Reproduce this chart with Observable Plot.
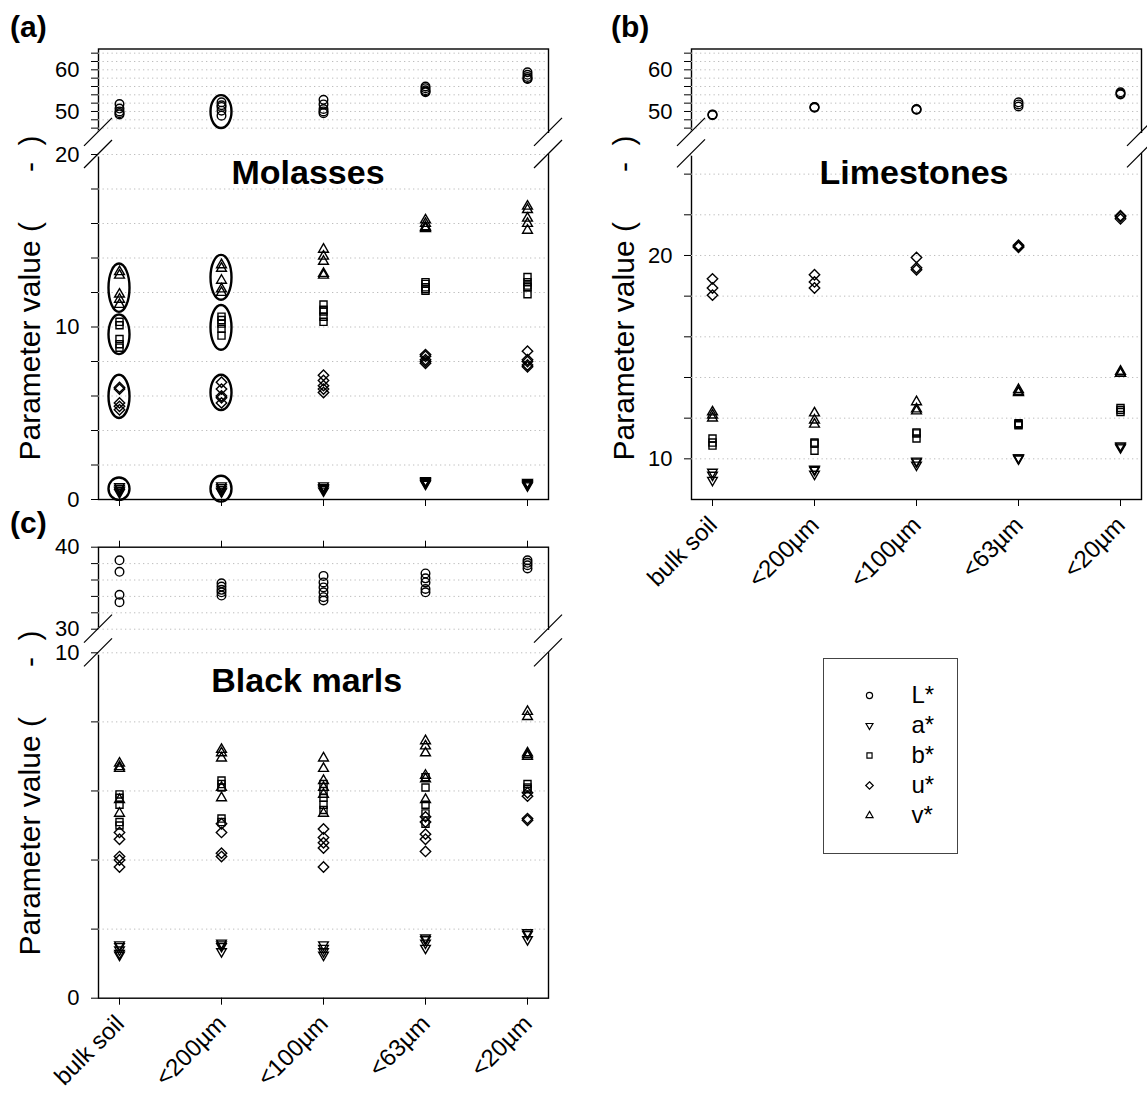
<!DOCTYPE html>
<html>
<head>
<meta charset="utf-8">
<script src="https://cdn.jsdelivr.net/npm/d3@7"></script>
<script src="https://cdn.jsdelivr.net/npm/@observablehq/plot@0.6"></script>
<style>
  body { margin: 0; background: #fff; }
  #fig { position: relative; width: 1147px; height: 1097px; overflow: hidden; background: #fff;
         font-family: "Liberation Sans", Arial, Helvetica, sans-serif; color: #000; }
  .txt { position: absolute; line-height: 1; white-space: pre; }
</style>
</head>
<body>
<div id="fig"></div>
<script>
// ---------------- data ----------------
const sizes = ["bulk soil", "<200µm", "<100µm", "<63µm", "<20µm"];
const params = ["L*", "a*", "b*", "u*", "v*"];

// (a) Molasses: one inner array per size fraction
const molasses_L = [[51.8, 50.7, 50.0, 49.6, 49.3], [52.2, 51.5, 51.1, 50.2, 49.0], [52.8, 51.7, 50.6, 50.0, 49.6], [56.0, 55.6, 55.1, 54.8, 54.6], [59.4, 58.8, 58.3, 57.9, 57.8]];
const molasses_a = [[0.75, 0.65, 0.55, 0.5, 0.4], [0.8, 0.7, 0.6, 0.5, 0.45], [0.8, 0.7, 0.65, 0.6, 0.5], [1.1, 1.05, 1.0, 0.95, 0.9], [1.0, 0.95, 0.9, 0.85, 0.8]];
const molasses_b = [[10.3, 10.1, 9.3, 9.0, 8.8], [10.6, 10.4, 10.2, 9.9, 9.5], [11.3, 11.0, 10.9, 10.6, 10.3], [12.6, 12.5, 12.3, 12.2, 12.1], [12.9, 12.6, 12.4, 12.3, 11.9]];
const molasses_u = [[6.5, 6.4, 5.6, 5.4, 5.2], [6.8, 6.4, 6.0, 5.9, 5.6], [7.2, 6.9, 6.6, 6.4, 6.2], [8.4, 8.3, 8.1, 8.0, 7.9], [8.6, 8.1, 8.0, 7.8, 7.7]];
const molasses_v = [[13.2, 13.0, 11.9, 11.6, 11.3], [13.6, 13.4, 12.7, 12.2, 12.0], [14.5, 14.1, 13.8, 13.1, 13.0], [16.2, 16.0, 15.8, 15.75, 15.7], [17.0, 16.8, 16.3, 16.0, 15.6]];

// (b) Limestones
const limestones_L = [[49.3, 49.2, 49.1], [51.1, 51.0, 50.9], [50.6, 50.5, 50.4], [52.2, 51.7, 51.2], [54.6, 54.3, 54.1]];
const limestones_a = [[9.35, 9.2, 8.95], [9.5, 9.45, 9.25], [9.9, 9.85, 9.7], [10.05, 10.05, 10.0], [10.65, 10.6, 10.55]];
const limestones_b = [[11.0, 10.8, 10.65], [10.8, 10.75, 10.4], [11.3, 11.25, 11.0], [11.75, 11.7, 11.65], [12.5, 12.4, 12.3]];
const limestones_u = [[18.85, 18.4, 18.05], [19.05, 18.7, 18.4], [19.9, 19.4, 19.3], [20.5, 20.45, 20.4], [21.95, 21.9, 21.8]];
const limestones_v = [[12.3, 12.15, 12.0], [12.25, 11.9, 11.7], [12.8, 12.45, 12.35], [13.4, 13.3, 13.25], [14.3, 14.2, 14.2]];

// (c) Black marls
const marls_L = [[38.4, 37.0, 34.2, 33.3], [35.6, 35.2, 34.8, 34.5, 34.1], [36.5, 35.7, 35.1, 34.5, 33.9, 33.5], [36.8, 36.2, 35.7, 34.9, 34.5], [38.4, 38.1, 37.8, 37.4]];
const marls_a = [[1.55, 1.5, 1.4, 1.3, 1.25], [1.6, 1.55, 1.5, 1.35], [1.55, 1.45, 1.35, 1.25], [1.75, 1.7, 1.6, 1.45], [1.9, 1.85, 1.7]];
const marls_b = [[5.9, 5.8, 5.6, 5.1, 5.0], [6.3, 6.2, 6.1, 5.2, 5.1], [6.2, 6.0, 5.8, 5.6, 5.45], [6.4, 6.1, 5.6, 5.35, 5.05], [6.2, 6.1, 6.05]];
const marls_u = [[4.8, 4.6, 4.1, 4.0, 3.8], [5.05, 4.8, 4.2, 4.1], [4.9, 4.65, 4.5, 4.35, 3.8], [5.25, 5.1, 4.75, 4.6, 4.25], [5.95, 5.85, 5.2, 5.15]];
const marls_v = [[6.8, 6.7, 6.65, 5.75, 5.35], [7.2, 7.1, 6.95, 6.1, 5.8], [6.95, 6.65, 6.3, 6.1, 5.9, 5.35], [7.45, 7.3, 7.1, 6.45, 6.35, 5.75], [8.3, 8.15, 7.1, 7.05, 7.0]];

// ellipses drawn around groups in (a): size fraction and enclosed value range
const ellipseSize = ["<200µm", "bulk soil", "bulk soil", "bulk soil", "bulk soil", "<200µm", "<200µm", "<200µm", "<200µm"];
const ellipseLo   = [45.9, 10.85, 8.4, 4.7, -0.05, 11.55, 8.65, 5.15, -0.15];
const ellipseHi   = [53.8, 13.65, 10.7, 7.2, 1.25, 14.15, 11.25, 7.2, 1.35];

// axis ticks
const topTicks = d3.range(46, 65, 2), topLabels = [50, 60];
const aTicks = d3.range(0, 21, 2), aLabels = [0, 10, 20];
const bTicks = d3.range(10, 25, 2), bLabels = [10, 20];
const cTopTicks = d3.range(30, 41, 2), cTopLabels = [30, 40];
const cTicks = d3.range(0, 11, 2), cLabels = [0, 10];

// ---------------- helpers ----------------
const W = 1147, H = 1097;
const FONT = '"Liberation Sans", Arial, Helvetica, sans-serif';
const fig = document.getElementById("fig");

const triDown = {
  draw(ctx, size) {
    const s = Math.sqrt(size) * 0.6824, t = s / 2, u = s * Math.sqrt(3) / 2;
    ctx.moveTo(0, s); ctx.lineTo(u, -t); ctx.lineTo(-u, -t); ctx.closePath();
  }
};
const symbolOf = {"L*": "circle", "a*": triDown, "b*": "square", "u*": "diamond2", "v*": "triangle2"};
const rOf = {"L*": 4.3, "a*": 4.6, "b*": 4.0, "u*": 4.7, "v*": 4.7};

function rows(groups, param) {
  return groups.flatMap((g, i) => g.map(v => ({param, size: sizes[i], value: v})));
}
const ellipses = ellipseSize.map((s, i) => ({size: s, lo: ellipseLo[i], hi: ellipseHi[i]}));

function segment(s) {
  const [left, right] = s.x, [top, bottom] = s.y;
  const edge = s.open === "top" ? s.domain[1] : s.domain[0];
  const marks = [
    Plot.frame({stroke: "black", strokeWidth: 1.4}),
    Plot.ruleY([edge], {stroke: "white", strokeWidth: 4}),
    Plot.ruleY(s.grid, {stroke: "#bdbdbd", strokeWidth: 1, strokeDasharray: "1.3,3.2"}),
    Plot.rect(s.ellipses || [], {x1: "size", x2: "size", y1: "lo", y2: "hi", insetLeft: -10.5, insetRight: -10.5,
      rx: 10.5, ry: 400, fill: "none", stroke: "black", strokeWidth: 2.4}),
    ...s.series.map(([groups, p]) => Plot.dot(rows(groups, p), {x: "size", y: "value", symbol: symbolOf[p], r: rOf[p],
      fill: "none", stroke: "black", strokeWidth: 1.4}))
  ];
  if (s.xAxis === "labels") {
    marks.push(Plot.text(sizes, {x: d => d, text: d => d, frameAnchor: "bottom", rotate: -45, textAnchor: "end",
      dx: 6, dy: 27, fontSize: 24}));
  }
  const xOpt = {type: "point", domain: sizes, padding: 0.2, label: null};
  if (s.xAxis === "none") xOpt.axis = null;
  else if (s.xAxis === "topticks") Object.assign(xOpt, {axis: "top", tickSize: 7, tickFormat: () => ""});
  else Object.assign(xOpt, {axis: "bottom", tickSize: 7, tickFormat: () => ""});
  const svg = Plot.plot({
    width: W, height: H,
    marginLeft: left, marginRight: W - right, marginTop: top, marginBottom: H - bottom,
    x: xOpt,
    y: {domain: s.domain, ticks: s.ticks, tickFormat: d => s.labels.includes(d) ? String(d) : "",
        tickSize: 7, tickPadding: 12, label: null},
    style: {background: "transparent", position: "absolute", left: "0px", top: "0px", overflow: "visible",
            fontSize: "22px", fontFamily: FONT, color: "black"},
    marks
  });
  // axis-break slashes at the open edge
  const g = d3.select(svg).append("g").attr("stroke", "black").attr("stroke-width", 1.2);
  const ey = s.open === "top" ? top : bottom;
  for (const ex of [left, right]) {
    g.append("line").attr("x1", ex - 14).attr("y1", ey + 14).attr("x2", ex + 14).attr("y2", ey - 14);
  }
  fig.appendChild(svg);
}

const XA = [98, 548], XB = [691, 1141];
// (a)
segment({x: XA, y: [48.5, 131.8], domain: [45, 65], ticks: topTicks, labels: topLabels, grid: topTicks,
  open: "bottom", xAxis: "none", series: [[molasses_L, "L*"]], ellipses: ellipses.slice(0, 1)});
segment({x: XA, y: [154, 499], domain: [0, 20], ticks: aTicks, labels: aLabels, grid: d3.range(2, 21, 2),
  open: "top", xAxis: "ticks", series: [[molasses_a, "a*"], [molasses_b, "b*"], [molasses_u, "u*"], [molasses_v, "v*"]],
  ellipses: ellipses.slice(1)});
// (b)
segment({x: XB, y: [48.5, 131.8], domain: [45, 65], ticks: topTicks, labels: topLabels, grid: topTicks,
  open: "bottom", xAxis: "none", series: [[limestones_L, "L*"]]});
segment({x: XB, y: [153.3, 499], domain: [8, 25], ticks: bTicks, labels: bLabels, grid: bTicks,
  open: "top", xAxis: "labels", series: [[limestones_a, "a*"], [limestones_b, "b*"], [limestones_u, "u*"], [limestones_v, "v*"]]});
// (c)
segment({x: XA, y: [546.7, 628.7], domain: [30, 40], ticks: cTopTicks, labels: cTopLabels, grid: d3.range(30, 40, 2),
  open: "bottom", xAxis: "topticks", series: [[marls_L, "L*"]]});
segment({x: XA, y: [652.3, 997.7], domain: [0, 10], ticks: cTicks, labels: cLabels, grid: d3.range(2, 11, 2),
  open: "top", xAxis: "labels", series: [[marls_a, "a*"], [marls_b, "b*"], [marls_u, "u*"], [marls_v, "v*"]]});

// ---------------- text ----------------
function text(str, {x, baseline, size, bold = false, anchor = "start"}) {
  const d = document.createElement("div");
  d.className = "txt";
  d.textContent = str;
  d.style.fontSize = size + "px";
  d.style.fontWeight = bold ? "bold" : "normal";
  d.style.top = (baseline - 0.8465 * size) + "px";
  d.style.left = x + "px";
  if (anchor === "middle") d.style.transform = "translateX(-50%)";
  fig.appendChild(d);
}
text("(a)", {x: 10, baseline: 37, size: 30, bold: true});
text("(b)", {x: 611, baseline: 37, size: 30, bold: true});
text("(c)", {x: 10, baseline: 533, size: 30, bold: true});
text("Molasses", {x: 308, baseline: 183.3, size: 34, bold: true, anchor: "middle"});
text("Limestones", {x: 914, baseline: 183.3, size: 34, bold: true, anchor: "middle"});
text("Black marls", {x: 306.7, baseline: 691.7, size: 34, bold: true, anchor: "middle"});

function ytitle(cx, cy) {
  const d = document.createElement("div");
  d.className = "txt";
  d.textContent = "Parameter value (      -  )";
  d.style.fontSize = "30px";
  d.style.left = cx + "px";
  d.style.top = cy + "px";
  d.style.transform = "translate(-50%, -50%) rotate(-90deg)";
  fig.appendChild(d);
}
ytitle(30, 298);
ytitle(624, 298);
ytitle(30, 793);

// ---------------- legend ----------------
const legendBox = document.createElement("div");
legendBox.style.cssText = "position:absolute;left:823px;top:658px;width:133px;height:194px;border:1px solid #444;";
const legend = Plot.plot({
  width: 133, height: 194, margin: 0,
  x: {axis: null}, y: {type: "point", domain: params, range: [35, 157], padding: 0, axis: null},
  style: {background: "transparent", overflow: "visible", fontFamily: FONT, color: "black"},
  marks: [
    ...params.map(p => Plot.dot([p], {y: d => d, frameAnchor: "left", dx: 45, symbol: symbolOf[p],
      r: rOf[p] * 0.72, fill: "none", stroke: "black", strokeWidth: 1.2})),
    Plot.text(params, {y: d => d, text: d => d, frameAnchor: "left", dx: 87, textAnchor: "start", fontSize: 24})
  ]
});
legendBox.appendChild(legend);
fig.appendChild(legendBox);
</script>
</body>
</html>
